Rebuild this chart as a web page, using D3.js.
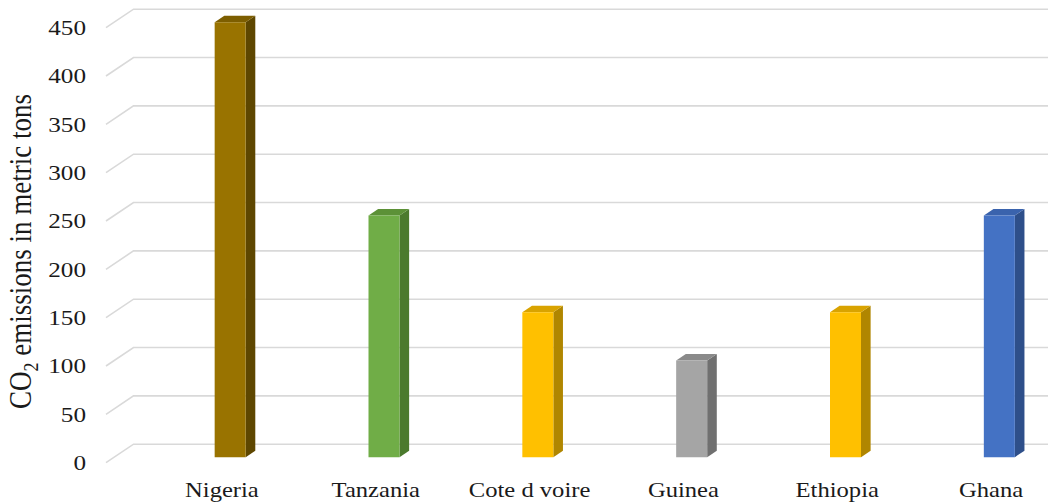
<!DOCTYPE html>
<html>
<head>
<meta charset="utf-8">
<script src="https://cdn.jsdelivr.net/npm/d3@7"></script>
<style>
  html, body { margin: 0; padding: 0; background: #fff; }
  svg { display: block; }
  text { font-family: "Liberation Serif", "Times New Roman", serif; fill: #1a1a1a; }
</style>
</head>
<body>
<svg id="chart" width="1048" height="503"></svg>
<script>
// Chart data
const categories = ["Nigeria", "Tanzania", "Cote d voire", "Guinea", "Ethiopia", "Ghana"];
const emissions = [450, 250, 150, 100, 150, 250];
const yTicks = [0, 50, 100, 150, 200, 250, 300, 350, 400, 450];

// Face colours per bar: front, side, top
const frontColors = ["#997300", "#70ad47", "#ffc000", "#a5a5a5", "#ffc000", "#4472c4"];
const sideColors  = ["#5e4700", "#4b7a2d", "#b08600", "#707070", "#b08600", "#2e4f8a"];
const topColors   = ["#7d5e00", "#5c9137", "#d9a300", "#8a8a8a", "#d9a300", "#3a63ad"];

const svg = d3.select("#chart");

// Oblique projection: depth d in [0,1] shifts right and up
const DX = 27.5, DY = -18.5;
const x = d3.scaleBand().domain(categories).range([145, 1068]).paddingInner(0).paddingOuter(0);
const y = d3.scaleLinear().domain([0, 450]).range([462.7, 27.7]);
const proj = (px, v, d) => [px + d * DX, y(v) + d * DY];

const floorLeft = 106, rightEdge = 1060;
const barW = 31, dFront = 0.3, dBack = 0.65;

// Gridlines: slanted side-wall part then horizontal back-wall part
const grid = svg.append("g");
grid.selectAll("path").data(yTicks).join("path")
  .attr("d", v => {
    const a = proj(floorLeft, v, 0), b = proj(floorLeft, v, 1);
    return `M${a[0]},${a[1]}L${b[0]},${b[1]}L${rightEdge},${b[1]}`;
  })
  .attr("fill", "none")
  .attr("stroke", "#d9d9d9")
  .attr("stroke-width", 1.6);

// Y tick labels
svg.append("g").selectAll("g").data(yTicks).join("g")
  .attr("transform", v => `translate(86,${y(v)}) scale(1.2,1)`)
  .append("text")
  .attr("text-anchor", "end")
  .attr("dy", "0.35em")
  .attr("font-size", 21)
  .text(d3.format("d"));

// Bars
const bars = svg.append("g").selectAll("g").data(categories).join("g");
const poly = pts => "M" + pts.map(p => p.join(",")).join("L") + "Z";

bars.each(function(c, i) {
  const g = d3.select(this);
  const v = emissions[i];
  const xl = x(c) + x.bandwidth() / 2 - barW / 2;
  const xr = xl + barW;
  // side face
  g.append("path")
    .attr("d", poly([proj(xr, 0, dFront), proj(xr, 0, dBack), proj(xr, v, dBack), proj(xr, v, dFront)]))
    .attr("fill", sideColors[i]);
  // top face
  g.append("path")
    .attr("d", poly([proj(xl, v, dFront), proj(xr, v, dFront), proj(xr, v, dBack), proj(xl, v, dBack)]))
    .attr("fill", topColors[i]);
  // front face
  g.append("path")
    .attr("d", poly([proj(xl, 0, dFront), proj(xr, 0, dFront), proj(xr, v, dFront), proj(xl, v, dFront)]))
    .attr("fill", frontColors[i]);
});

// Category labels along the front edge of the floor
svg.append("g").selectAll("g").data(categories).join("g")
  .attr("transform", c => `translate(${x(c) + x.bandwidth() / 2},496.5) scale(1.2,1)`)
  .append("text")
  .attr("text-anchor", "middle")
  .attr("font-size", 20.5)
  .text(c => c);

// Y axis title with subscript
const title = svg.append("g")
  .attr("transform", "translate(31,251.5) scale(1.2,1) rotate(-90)")
  .append("text")
  .attr("text-anchor", "middle")
  .attr("font-size", 27);
title.append("tspan").text("CO");
title.append("tspan").attr("font-size", 18).attr("dy", 6).text("2");
title.append("tspan").attr("dy", -6).text(" emissions in metric tons");
</script>
</body>
</html>
